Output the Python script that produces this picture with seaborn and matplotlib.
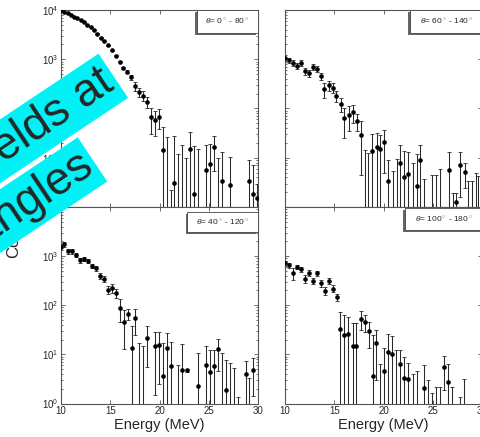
import numpy as np
import pandas as pd
import matplotlib
matplotlib.use("Agg")
import matplotlib.pyplot as plt
import seaborn as sns
from matplotlib.patches import Rectangle

sns.set_theme(style="ticks")
plt.rcParams["font.family"] = ["Liberation Sans", "DejaVu Sans"]
plt.rcParams["mathtext.fontset"] = "custom"
plt.rcParams["mathtext.rm"] = "Liberation Sans"
plt.rcParams["mathtext.it"] = "Liberation Sans:italic"

# ---- spectra: energy (MeV), counts, 1-sigma error ----
tl_energy = [10.0, 10.34, 10.68, 10.98, 11.32, 11.65, 12.0, 12.33, 12.67, 13.0,
             13.35, 13.65, 14.03, 14.4, 14.77, 15.15, 15.55, 15.96, 16.33, 16.73,
             17.14, 17.54, 17.95, 18.32, 18.73, 19.17, 19.51, 19.92, 20.32, 20.73,
             21.14, 21.5, 21.9, 22.3, 22.7, 23.13, 23.5, 23.94, 24.72, 25.1,
             25.5, 25.9, 26.3, 27.16, 29.09, 29.52, 29.93]
tl_counts = [9770, 9120, 8510, 7940, 7240, 6760, 6170, 5620, 5010, 4470,
             3890, 3310, 2750, 2340, 1905, 1510, 1175, 891, 676, 562,
             427, 282, 214, 182, 138, 66, 58, 68, 14.5, 0.5,
             0.3, 3.1, 0.5, 0.5, 0.5, 15, 1.8, 0.5, 5.7, 7.5,
             16.7, 0.5, 3.3, 2.8, 3.4, 1.8, 1.5]
tl_sigma = [60, 60, 55, 55, 50, 50, 45, 45, 40, 40,
            38, 35, 32, 30, 27, 25, 22, 20, 30, 40,
            50, 60, 45, 40, 35, 35, 30, 30, 28.5, 25.5,
            1.9, 24, 11.5, 18, 9.5, 18, 15.2, 14.5, 12.8, 11.9,
            11.3, 9.5, 9.5, 7.7, 5.4, 5.4, 1.5]

tr_energy = [10.0, 10.41, 10.82, 11.19, 11.63, 12.04, 12.42, 12.82, 13.23, 13.64,
             13.98, 14.42, 14.83, 15.2, 15.64, 16.02, 16.46, 16.87, 17.28, 17.65,
             18.06, 18.43, 18.84, 19.29, 19.63, 20.03, 20.48, 20.89, 21.3, 21.66,
             22.07, 22.48, 22.93, 23.34, 23.7, 24.11, 24.87, 25.3, 25.71, 26.56,
             27.0, 27.35, 27.76, 28.2, 28.54, 28.95, 29.3, 29.56, 29.9]
tr_counts = [1080, 955, 855, 725, 855, 575, 515, 710, 645, 455,
             252, 295, 264, 178, 126, 64.6, 73, 84, 57, 29.5,
             0.5, 0.5, 13.9, 16.2, 15.2, 20.5, 3.3, 0.5, 0.5, 7.8,
             4.1, 4.6, 0.5, 2.7, 9.1, 0.5, 0.5, 0.5, 0.5, 5.7,
             0.5, 1.28, 7.2, 5.1, 0.5, 0.5, 0.5, 0.5, 0.5]
tr_sigma = [150, 130, 120, 100, 120, 85, 80, 100, 95, 75,
            85, 70, 60, 45, 40, 40, 38, 33, 22, 25,
            14.1, 11.9, 17.1, 15.4, 14.4, 15.5, 5.8, 4.8, 8.9, 10,
            9.3, 8.2, 7.3, 9.2, 8.7, 3.2, 4.0, 3.9, 5.4, 7.1,
            1.4, 0.62, 5.6, 2.7, 2.8, 2.8, 4.4, 3.7, 4.3]

bl_energy = [10.0, 10.34, 10.74, 11.15, 11.55, 11.96, 12.37, 12.77, 13.18, 13.58,
             13.99, 14.37, 14.77, 15.18, 15.58, 15.99, 16.36, 16.77, 17.18, 17.55,
             17.95, 18.36, 18.76, 19.57, 19.92, 20.32, 20.73, 21.14, 21.9, 22.32,
             22.76, 23.94, 24.72, 25.13, 25.53, 25.94, 26.35, 26.75, 27.16, 27.56,
             27.97, 28.75, 29.12, 29.52]
bl_counts = [1510, 1740, 1260, 1260, 1050, 830, 870, 800, 630, 560,
             390, 345, 209, 225, 178, 88, 45.7, 67.6, 13.7, 55,
             0.5, 0.5, 21.5, 15, 15.5, 3.6, 13.4, 5.8, 0.5, 4.7,
             4.7, 2.26, 6.2, 4.4, 5.8, 12.8, 0.5, 1.84, 0.5, 0.5,
             0.5, 4.0, 0.5, 4.9]
bl_sigma = [150, 170, 130, 130, 110, 90, 90, 85, 70, 65,
            55, 50, 40, 45, 35, 43, 33, 18, 25, 30,
            16.5, 14.3, 16, 13.5, 13, 13.7, 13.8, 12, 5.5, 11.8,
            0.4, 8.3, 8.6, 7.7, 6.3, 8.2, 10, 6, 6.1, 4.8,
            0.85, 3.5, 2.8, 3.5]

br_energy = [10.0, 10.44, 10.85, 11.26, 11.63, 12.04, 12.45, 12.82, 13.23, 13.64,
             14.01, 14.42, 14.83, 15.23, 15.61, 16.02, 16.43, 16.84, 17.24, 17.65,
             18.06, 18.47, 18.88, 19.26, 19.64, 20.03, 20.44, 20.85, 21.25, 21.66,
             22.07, 22.48, 22.93, 23.34, 24.05, 24.46, 24.9, 25.3, 25.7, 26.09,
             26.5, 26.91, 27.76, 28.13]
br_counts = [710, 655, 445, 605, 540, 350, 455, 315, 445, 278,
             195, 310, 219, 148, 33.5, 24.5, 25.6, 14.8, 14.8, 53.5,
             45.7, 29.5, 3.7, 17, 0.5, 4.5, 11.2, 10.3, 0.5, 6.5,
             3.3, 3.1, 0.5, 0.5, 2.09, 0.5, 0.5, 0.5, 0.5, 5.5,
             2.8, 0.5, 0.5, 0.5]
br_sigma = [80, 75, 115, 70, 65, 60, 60, 50, 55, 45,
            35, 45, 35, 25, 41, 38, 32, 29, 28, 22,
            17, 16, 21, 14, 6, 9, 15, 13, 11.5, 6,
            5.5, 3.5, 3.5, 4.0, 4.1, 2.45, 1.15, 1.7, 1.7, 3.6,
            3.7, 1.7, 0.85, 2.7]

panel_labels = [r"$\theta$= 0$^\circ$ - 80$^\circ$",
                r"$\theta$= 60$^\circ$ - 140$^\circ$",
                r"$\theta$= 40$^\circ$ - 120$^\circ$",
                r"$\theta$= 100$^\circ$ - 180$^\circ$"]
x_ticks = [10, 15, 20, 25, 30]

panels = [(tl_energy, tl_counts, tl_sigma),
          (tr_energy, tr_counts, tr_sigma),
          (bl_energy, bl_counts, bl_sigma),
          (br_energy, br_counts, br_sigma)]

W, H = 481, 437
fig = plt.figure(figsize=(W / 100, H / 100), dpi=100)
fig.patch.set_facecolor("white")


def frac_rect(x0, y_top, x1, y_bot):
    return [x0 / W, 1 - y_bot / H, (x1 - x0) / W, (y_bot - y_top) / H]


rects = [frac_rect(61, 10, 258, 207), frac_rect(285, 10, 482.5, 207),
         frac_rect(61, 207, 258, 403.5), frac_rect(285, 207, 482.5, 403.5)]
# label box (x0, y0, y1) in axes fraction
boxes = [(0.69, 0.883, 1.0), (0.633, 0.883, 1.0),
         (0.64, 0.874, 0.976), (0.608, 0.883, 0.995)]

spine_c = "#555555"
for k, ((e, c, s), rect) in enumerate(zip(panels, rects)):
    ax = fig.add_axes(rect)
    df = pd.DataFrame({"energy": e, "counts": c, "sigma": s})
    lower = np.minimum(df["sigma"], df["counts"] - 1e-3)
    ax.errorbar(df["energy"], df["counts"], yerr=[lower, df["sigma"]],
                fmt="none", ecolor="#2a2a2a", elinewidth=0.75,
                capsize=1.4, capthick=0.6, zorder=2)
    sns.scatterplot(data=df, x="energy", y="counts", ax=ax, s=11,
                    color="black", linewidth=0, zorder=3, legend=False)
    ax.set_yscale("log")
    ax.set_xlim(10, 30)
    ax.set_ylim(1, 1e4)
    ax.set_xticks(x_ticks)
    ax.set_xlabel("")
    ax.set_ylabel("")
    for sp in ax.spines.values():
        sp.set_color(spine_c)
        sp.set_linewidth(0.8)
    ax.tick_params(which="both", direction="in", top=True, right=True,
                   color=spine_c, width=0.6, labelsize=7, pad=2)
    ax.tick_params(which="major", length=3)
    ax.tick_params(which="minor", length=1.5)
    ax.tick_params(axis="x", which="minor", bottom=False, top=False)
    if k < 2:
        ax.tick_params(axis="x", labelbottom=False)
    else:
        ax.set_xticklabels([str(t) for t in x_ticks])
        ax.set_xlabel("Energy (MeV)", fontsize=10.5, labelpad=1)
    if k % 2 == 1:
        ax.tick_params(axis="y", which="both", labelleft=False)

    bx0, by0, by1 = boxes[k]
    ax.add_patch(Rectangle((bx0 - 0.008, by0 - 0.01), 1.0 - bx0, by1 - by0,
                           transform=ax.transAxes, fc="#666666", ec="none",
                           zorder=5, clip_on=False))
    ax.add_patch(Rectangle((bx0, by0), 1.0 - bx0, by1 - by0,
                           transform=ax.transAxes, fc="white", ec="#444444",
                           lw=0.6, zorder=6, clip_on=False))
    ax.text((bx0 + 1.0) / 2, (by0 + by1) / 2, panel_labels[k],
            transform=ax.transAxes, ha="center", va="center",
            fontsize=6, zorder=7)

fig.text(14 / W, 1 - 258 / H, "Counts", rotation=90, ha="center",
         va="bottom", fontsize=12)

# title banner laid across the upper-left corner
banner = dict(boxstyle="square,pad=0.1", fc="#00F2F6", ec="none")
fig.text(109.5 / W, 1 - 78.3 / H, "Yields at", rotation=33.7,
         rotation_mode="anchor", ha="right", va="center", fontsize=33,
         bbox=banner, zorder=20)
fig.text(88.7 / W, 1 - 162 / H, "different angles", rotation=33.7,
         rotation_mode="anchor", ha="right", va="center", fontsize=33,
         bbox=banner, zorder=20)

fig.savefig("out.png", dpi=100, facecolor="white")
